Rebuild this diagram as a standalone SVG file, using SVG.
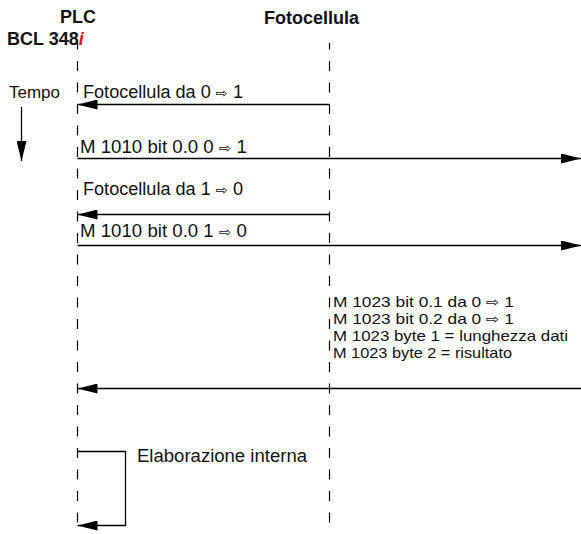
<svg xmlns="http://www.w3.org/2000/svg" width="581" height="534" viewBox="0 0 581 534">
  <style>
    .title { font-family: "Liberation Sans", Arial, sans-serif; font-weight: bold; font-size: 18px; fill: #111; }
    .lbl { font-family: "Liberation Sans", "DejaVu Sans", Arial, sans-serif; font-size: 17.5px; fill: #111; }
    .sm { font-family: "Liberation Sans", "DejaVu Sans", Arial, sans-serif; font-size: 17px; fill: #111; }
    .note { font-family: "Liberation Sans", "DejaVu Sans", Arial, sans-serif; font-size: 15px; fill: #111; }
    .arr { font-family: "DejaVu Sans", sans-serif; font-size: 14px; }
    .life { stroke: #000; stroke-width: 1.2; stroke-dasharray: 10 11.5; stroke-dashoffset: 3.5; fill: none; }
    .msg { stroke: #000; stroke-width: 1.3; fill: none; }
  </style>
  <defs>
    <marker id="head" markerUnits="userSpaceOnUse" markerWidth="20" markerHeight="10" refX="20" refY="5" orient="auto" viewBox="0 0 20 10">
      <path d="M0,0 L20,5 L0,10 z" fill="#000"/>
    </marker>
  </defs>
  <rect width="581" height="534" fill="#fff"/>

  <!-- PLC lifeline -->
  <g id="plc">
    <text class="title" x="60" y="23">PLC</text>
    <text class="title" x="7" y="45">BCL 348<tspan fill="#e3141b" font-style="italic">i</tspan></text>
    <line class="life" x1="77.5" y1="43" x2="77.5" y2="534"/>
  </g>

  <!-- Photocell lifeline -->
  <g id="fotocellula">
    <text class="title" x="264" y="24">Fotocellula</text>
    <line class="life" x1="329.5" y1="43" x2="329.5" y2="534"/>
  </g>

  <!-- Time axis -->
  <g id="tempo">
    <text class="sm" x="9" y="98">Tempo</text>
    <line class="msg" x1="21.5" y1="107" x2="21.5" y2="161" marker-end="url(#head)"/>
  </g>

  <!-- Messages -->
  <g id="connectors">
    <line class="msg" x1="329.5" y1="104.5" x2="77.5" y2="104.5" marker-end="url(#head)"/>
    <line class="msg" x1="77.5" y1="158.5" x2="581" y2="158.5" marker-end="url(#head)"/>
    <line class="msg" x1="329.5" y1="214.5" x2="77.5" y2="214.5" marker-end="url(#head)"/>
    <line class="msg" x1="77.5" y1="245.5" x2="581" y2="245.5" marker-end="url(#head)"/>
    <line class="msg" x1="581" y1="388.5" x2="77.5" y2="388.5" marker-end="url(#head)"/>
    <polyline class="msg" points="77.5,451.5 125.5,451.5 125.5,525.5 77.5,525.5" marker-end="url(#head)"/>
  </g>

  <!-- Message labels -->
  <g id="labels">
    <text class="lbl" x="83" y="98" textLength="160" lengthAdjust="spacingAndGlyphs">Fotocellula da 0 <tspan class="arr">⇨</tspan> 1</text>
    <text class="lbl" x="80" y="153" textLength="167" lengthAdjust="spacingAndGlyphs">M 1010 bit 0.0 0 <tspan class="arr">⇨</tspan> 1</text>
    <text class="lbl" x="83" y="195" textLength="160" lengthAdjust="spacingAndGlyphs">Fotocellula da 1 <tspan class="arr">⇨</tspan> 0</text>
    <text class="lbl" x="80" y="237" textLength="167" lengthAdjust="spacingAndGlyphs">M 1010 bit 0.0 1 <tspan class="arr">⇨</tspan> 0</text>
    <text class="note" x="333" y="307" textLength="181" lengthAdjust="spacingAndGlyphs">M 1023 bit 0.1 da 0 <tspan class="arr">⇨</tspan> 1</text>
    <text class="note" x="333" y="324" textLength="181" lengthAdjust="spacingAndGlyphs">M 1023 bit 0.2 da 0 <tspan class="arr">⇨</tspan> 1</text>
    <text class="note" x="333" y="341" textLength="235" lengthAdjust="spacingAndGlyphs">M 1023 byte 1 = lunghezza dati</text>
    <text class="note" x="333" y="358" textLength="179" lengthAdjust="spacingAndGlyphs">M 1023 byte 2 = risultato</text>
    <text class="lbl" x="137" y="462" textLength="170" lengthAdjust="spacingAndGlyphs">Elaborazione interna</text>
  </g>
</svg>
